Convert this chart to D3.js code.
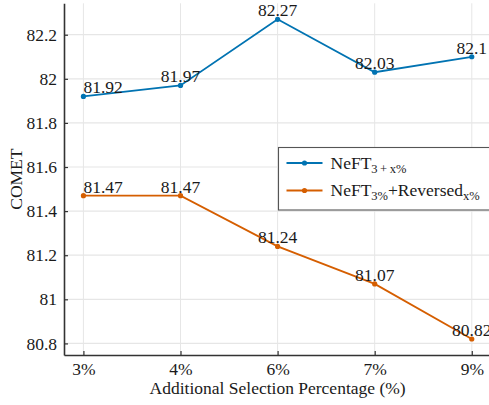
<!DOCTYPE html>
<html>
<head>
<meta charset="utf-8">
<script src="https://cdn.jsdelivr.net/npm/d3@7"></script>
<style>
  html, body { margin: 0; padding: 0; background: #fff; }
  svg { display: block; }
</style>
</head>
<body>
<svg id="chart" width="489" height="405" font-family="'Liberation Serif', 'Times New Roman', serif"></svg>
<script>
// Additional selection percentages on the x axis
const categories = ["3%", "4%", "6%", "7%", "9%"];
// COMET scores for each training variant
const neftPlus = [81.92, 81.97, 82.27, 82.03, 82.1];
const neftReversed = [81.47, 81.47, 81.24, 81.07, 80.82];
// y-axis tick values
const yTicks = [80.8, 81, 81.2, 81.4, 81.6, 81.8, 82, 82.2];
const seriesColors = ["#0173b2", "#d55e00"];

const W = 489, H = 405;
const FS = 17.5;
const TXT = "#1a1a1a";
const margin = { left: 64, top: 3.3, right: -2.2, bottom: 50 };
const plotW = W - margin.left - margin.right;
const plotH = H - margin.top - margin.bottom;

const svg = d3.select("#chart");
const g = svg.append("g").attr("transform", `translate(${margin.left},${margin.top})`);

// x: category index positions with a 0.2-step margin on each side
const xPos = d3.scaleLinear().domain([-0.2, categories.length - 1 + 0.2]).range([0, plotW]);
const xc = c => xPos(categories.indexOf(c));

// y: data range plus 5% padding
const allVals = neftPlus.concat(neftReversed);
const lo = d3.min(allVals), hi = d3.max(allVals), pad = (hi - lo) * 0.05;
const y = d3.scaleLinear().domain([lo - pad, hi + pad]).range([plotH, 0]);

// grid
const grid = g.append("g");
grid.selectAll("line.h").data(yTicks).join("line")
  .attr("x1", 0).attr("x2", plotW)
  .attr("y1", d => y(d)).attr("y2", d => y(d))
  .attr("stroke", "#e6e6e6").attr("stroke-width", 1.2);
grid.selectAll("line.v").data(categories).join("line")
  .attr("x1", d => xc(d)).attr("x2", d => xc(d))
  .attr("y1", 0).attr("y2", plotH)
  .attr("stroke", "#e6e6e6").attr("stroke-width", 1);

// axes (inward ticks)
const yAxis = g.append("g")
  .call(d3.axisLeft(y).tickValues(yTicks).tickFormat(d3.format("~g")).tickSizeInner(-4).tickSizeOuter(0).tickPadding(7));
const xAxis = g.append("g").attr("transform", `translate(0,${plotH})`)
  .call(d3.axisBottom(xPos).tickValues(d3.range(categories.length)).tickFormat(i => categories[i]).tickSizeInner(-4).tickSizeOuter(0).tickPadding(8));
[yAxis, xAxis].forEach(a => {
  a.attr("font-family", null).attr("font-size", FS);
  a.select(".domain").attr("stroke", "#333").attr("stroke-width", 1.6);
  a.selectAll(".tick line").attr("stroke", "#333").attr("stroke-width", 1.2);
  a.selectAll(".tick text").attr("fill", TXT);
});
xAxis.selectAll(".tick text").attr("dy", "0.71em");

// series
const series = [neftPlus, neftReversed];
const line = d3.line().x((d, i) => xc(categories[i])).y(d => y(d));
series.forEach((vals, s) => {
  g.append("path").datum(vals).attr("d", line)
    .attr("fill", "none").attr("stroke", seriesColors[s]).attr("stroke-width", 1.8);
  g.selectAll(null).data(vals).join("circle")
    .attr("cx", (d, i) => xc(categories[i])).attr("cy", d => y(d)).attr("r", 2.6)
    .attr("fill", seriesColors[s]);
  g.selectAll(null).data(vals).join("text")
    .attr("x", (d, i) => xc(categories[i]))
    .attr("y", d => y(d) - 3)
    .attr("text-anchor", (d, i) => i === 0 ? "start" : "middle")
    .attr("font-size", FS).attr("fill", TXT)
    .text(d => d3.format("~g")(d));
});

// legend
const lg = g.append("g").attr("transform", `translate(${278.5 - margin.left},${147.5 - margin.top})`);
lg.append("rect").attr("width", 240).attr("height", 62.5)
  .attr("fill", "#fff").attr("stroke", "#555").attr("stroke-width", 1.1);
const legendRows = [
  [{ t: "NeFT" }, { t: "3\u2009+\u2009x%", sub: true }],
  [{ t: "NeFT" }, { t: "3%", sub: true }, { t: "+Reversed" }, { t: "x%", sub: true }]
];
legendRows.forEach((parts, r) => {
  const ry = 15.5 + r * 27.5;
  lg.append("line").attr("x1", 8).attr("x2", 44).attr("y1", ry).attr("y2", ry)
    .attr("stroke", seriesColors[r]).attr("stroke-width", 1.8);
  lg.append("circle").attr("cx", 26).attr("cy", ry).attr("r", 2.6).attr("fill", seriesColors[r]);
  const t = lg.append("text").attr("x", 52).attr("y", ry + 5.5).attr("font-size", FS).attr("fill", TXT);
  parts.forEach((p, k) => {
    const ts = t.append("tspan").text(p.t);
    if (p.sub) ts.attr("font-size", 12.5).attr("dy", 4);
    else if (k > 0) ts.attr("dy", -4);
  });
});

// axis titles
svg.append("text").attr("x", margin.left + xPos(2)).attr("y", 394)
  .attr("text-anchor", "middle").attr("font-size", FS).attr("fill", TXT)
  .text("Additional Selection Percentage (%)");
svg.append("text").attr("transform", `translate(22,${margin.top + plotH / 2}) rotate(-90)`)
  .attr("text-anchor", "middle").attr("font-size", FS).attr("fill", TXT).text("COMET");
</script>
</body>
</html>
